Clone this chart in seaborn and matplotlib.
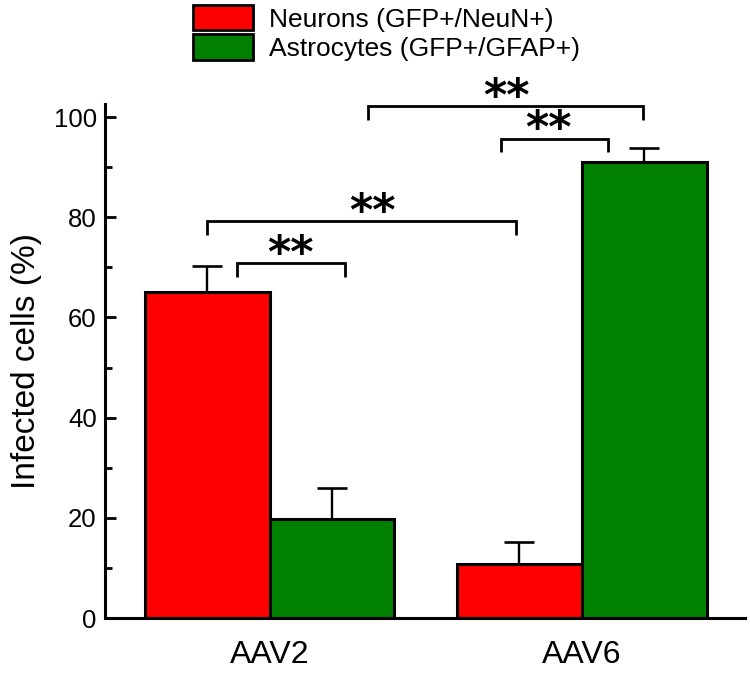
import matplotlib
matplotlib.use('Agg')
import matplotlib.pyplot as plt
import seaborn as sns
import pandas as pd
import numpy as np
from matplotlib.patches import Patch

# ---- data ----
vectors = ['AAV2', 'AAV6']
cell_types = ['Neurons (GFP+/NeuN+)', 'Astrocytes (GFP+/GFAP+)']
neurons = [65.0, 10.8]
neurons_err = [5.3, 4.4]
astrocytes = [19.7, 91.0]
astrocytes_err = [6.3, 2.8]
colors = ['#ff0000', '#008000']
y_ticks = [0, 20, 40, 60, 80, 100]

# significance brackets: (x_left, x_right, y_line, star_x)
brackets = [(-0.105, 0.242, 70.8, 0.066),
            (-0.200, 0.790, 79.2, 0.331),
            (0.742, 1.085, 95.7, 0.893),
            (0.316, 1.195, 102.2, 0.760)]
bracket_labels = ['**', '**', '**', '**']

df = pd.DataFrame({
    'vector': vectors * 2,
    'cell': [cell_types[0]] * 2 + [cell_types[1]] * 2,
    'value': neurons + astrocytes,
})

sns.set_style('white')
plt.rcParams['font.family'] = ['Liberation Sans', 'DejaVu Sans']
plt.rcParams['text.color'] = 'black'
plt.rcParams['axes.labelcolor'] = 'black'
plt.rcParams['xtick.color'] = 'black'
plt.rcParams['ytick.color'] = 'black'

fig = plt.figure(figsize=(7.5, 6.76), dpi=100)
ax = fig.add_axes([105 / 750, 1 - 618 / 676, 640 / 750, (618 - 104) / 676])

sns.barplot(data=df, x='vector', y='value', hue='cell', hue_order=cell_types,
            palette=colors, saturation=1, edgecolor='black', linewidth=2.2,
            errorbar=None, legend=False, ax=ax, zorder=2)

for cont, vals, errs in zip(ax.containers, [neurons, astrocytes], [neurons_err, astrocytes_err]):
    xs = [p.get_x() + p.get_width() / 2 for p in cont]
    ax.errorbar(xs, vals, yerr=[np.zeros(len(errs)), errs], fmt='none',
                ecolor='black', elinewidth=1.7, capsize=11, capthick=1.9, zorder=1)

ax.set_xlim(-0.527, 1.523)
ax.set_ylim(0, 102.6)
ax.set_yticks(y_ticks)
ax.set_yticks(np.arange(10, 100, 20), minor=True)
ax.tick_params(axis='y', which='major', direction='in', length=8, width=2,
               labelsize=18.5, pad=6, left=True)
ax.tick_params(axis='y', which='minor', direction='in', length=5, width=2, left=True)
ax.tick_params(axis='x', length=0, labelsize=23, pad=16)
ax.set_xlabel('')
ax.set_ylabel('Infected cells (%)', fontsize=24, labelpad=8)
for s in ['top', 'right']:
    ax.spines[s].set_visible(False)
for s in ['left', 'bottom']:
    ax.spines[s].set_linewidth(2.2)
    ax.spines[s].set_color('black')

drop = 2.7
for (x1, x2, y, sx), lab in zip(brackets, bracket_labels):
    ax.plot([x1, x1, x2, x2], [y - drop, y, y, y - drop], color='black', lw=2,
            clip_on=False, solid_capstyle='butt', solid_joinstyle='miter')
    ax.text(sx, y - 0.7, lab, ha='center', va='baseline', fontsize=32,
            fontweight='bold', family=['DejaVu Sans'], color='black', clip_on=False)

handles = [Patch(facecolor=c, edgecolor='black', linewidth=2) for c in colors]
fig.legend(handles=handles, labels=cell_types, loc='upper left',
           bbox_to_anchor=(193 / 750, 1 - 5 / 676), frameon=False,
           borderpad=0, borderaxespad=0, handlelength=2.27, handleheight=1.1,
           labelspacing=0.1, handletextpad=0.6, fontsize=19)

fig.savefig('out.png', dpi=100)
